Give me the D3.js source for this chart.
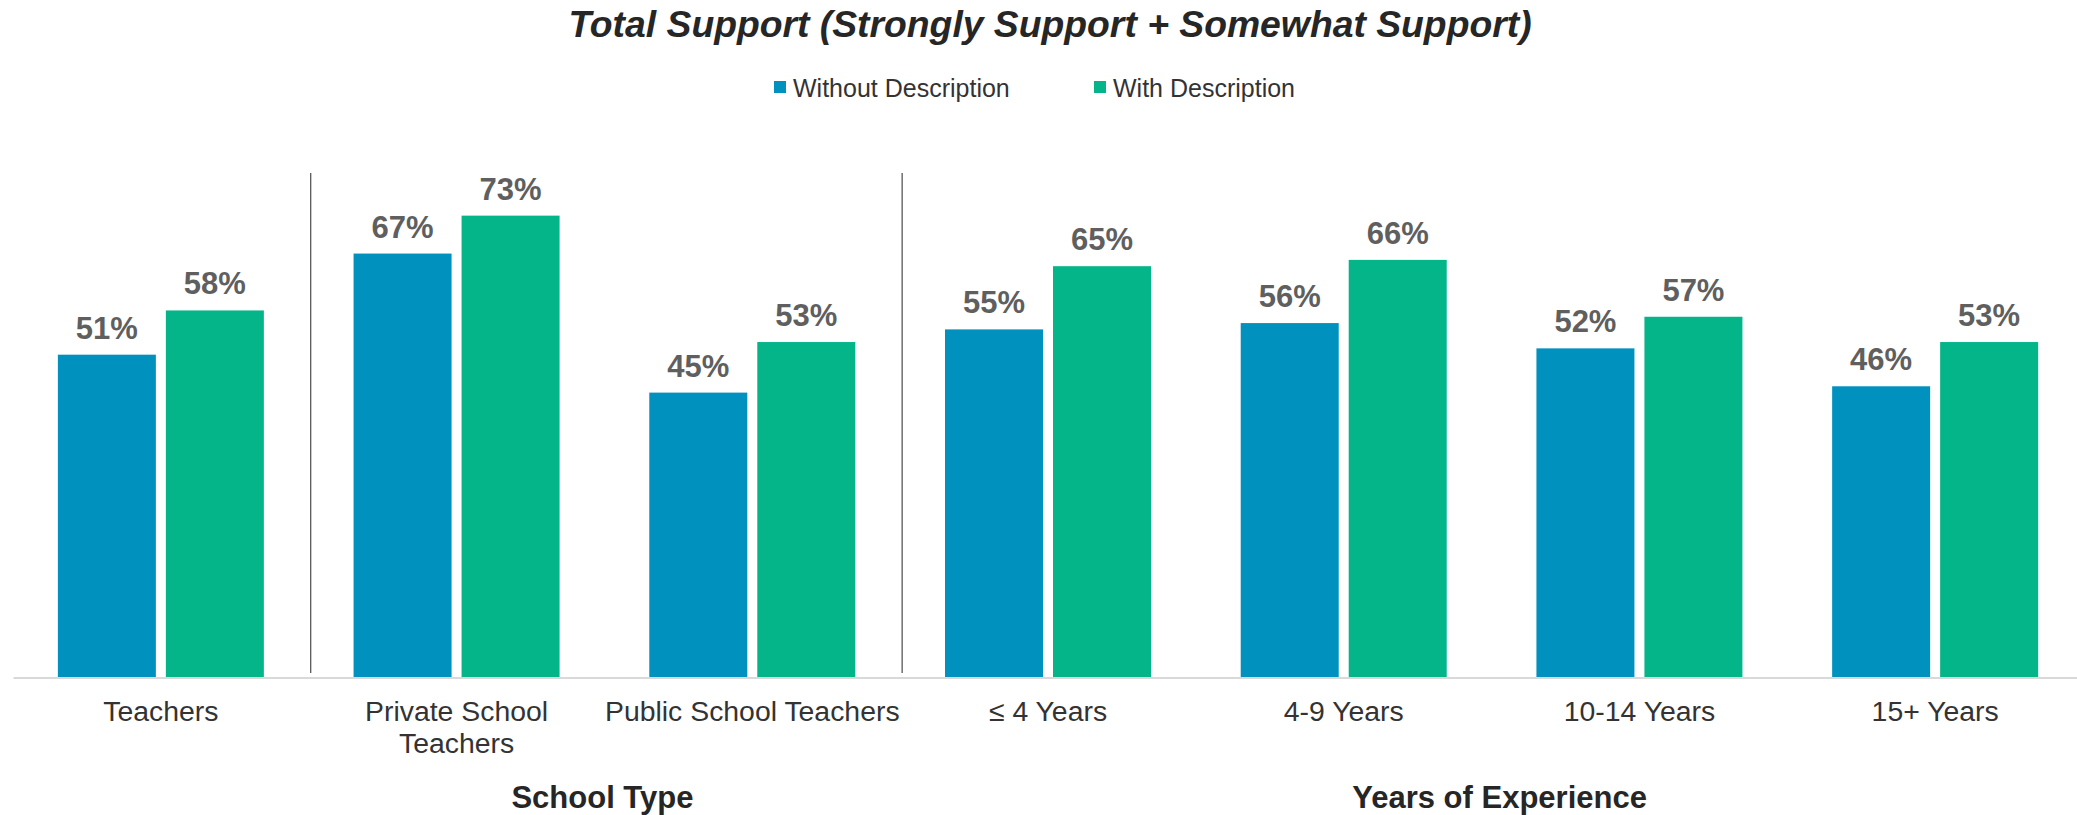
<!DOCTYPE html>
<html>
<head>
<meta charset="utf-8">
<script src="https://cdn.jsdelivr.net/npm/d3@7"></script>
<style>
  html, body { margin: 0; padding: 0; background: #ffffff; }
  svg { display: block; font-family: "Liberation Sans", Arial, sans-serif; }
</style>
</head>
<body>
<svg id="chart" width="2077" height="815"></svg>
<script>
// ---- data ----
const categories = ["Teachers", "Private School Teachers", "Public School Teachers", "≤ 4 Years", "4-9 Years", "10-14 Years", "15+ Years"];
const categoryLabels = ["Teachers", "Private School\nTeachers", "Public School Teachers", "≤ 4 Years", "4-9 Years", "10-14 Years", "15+ Years"];
const seriesNames = ["Without Description", "With Description"];
const withoutDescription = [51, 67, 45, 55, 56, 52, 46];
const withDescription = [58, 73, 53, 65, 66, 57, 53];
const seriesColors = ["#0091bf", "#03b588"];
const groupNames = ["School Type", "Years of Experience"];
const groupFirst = [1, 3];   // index of first category in each group
const groupLast = [2, 6];    // index of last category in each group
const titleText = "Total Support (Strongly Support + Somewhat Support)";

// ---- layout ----
const W = 2077, H = 815;
const baseY = 677;
const svg = d3.select("#chart");

const x = d3.scaleBand().domain(categories).range([13, 2083]).paddingInner(0).paddingOuter(0);
const pairWidth = 206;
const xs = d3.scaleBand().domain(seriesNames)
  .range([(x.bandwidth() - pairWidth) / 2, (x.bandwidth() + pairWidth) / 2])
  .paddingInner(0.0926).paddingOuter(0);
const y = d3.scaleLinear().domain([0, 100]).range([baseY, 45]);

const values = [withoutDescription, withDescription];
const rows = [];
categories.forEach((c, i) => {
  seriesNames.forEach((s, j) => rows.push({ cat: c, series: s, value: values[j][i], color: seriesColors[j] }));
});

// title
svg.append("text")
  .attr("x", 1050).attr("y", 37)
  .attr("text-anchor", "middle")
  .attr("font-size", 37.3).attr("font-weight", "bold").attr("font-style", "italic")
  .attr("fill", "#262626")
  .text(titleText);

// legend
const legendX = [774, 1094];
const legend = svg.append("g");
seriesNames.forEach((s, j) => {
  const g = legend.append("g").attr("transform", `translate(${legendX[j]},0)`);
  g.append("rect").attr("x", 0).attr("y", 81).attr("width", 12).attr("height", 12).attr("fill", seriesColors[j]);
  g.append("text").attr("x", 19).attr("y", 97).attr("font-size", 25).attr("fill", "#333333").text(s);
});

// bars
svg.append("g").selectAll("rect").data(rows).join("rect")
  .attr("x", d => x(d.cat) + xs(d.series))
  .attr("y", d => y(d.value))
  .attr("width", xs.bandwidth())
  .attr("height", d => baseY - y(d.value))
  .attr("fill", d => d.color);

// value labels
svg.append("g").selectAll("text").data(rows).join("text")
  .attr("x", d => x(d.cat) + xs(d.series) + xs.bandwidth() / 2)
  .attr("y", d => y(d.value) - 16)
  .attr("text-anchor", "middle")
  .attr("font-size", 31).attr("font-weight", "bold")
  .attr("fill", "#5f5f5f")
  .text(d => d.value + "%");

// axis
const axis = svg.append("g").attr("transform", `translate(0,${baseY + 0.5})`)
  .call(d3.axisBottom(x).tickSize(0).tickSizeOuter(0).tickFormat((d, i) => categoryLabels[i]));
axis.select(".domain").attr("stroke", "#d9d9d9").attr("stroke-width", 2);
axis.selectAll(".tick text").each(function(d, i) {
  const t = d3.select(this);
  const lines = categoryLabels[i].split("\n");
  t.text(null).attr("y", 0).attr("dy", null)
    .attr("font-size", 28.4).attr("fill", "#333333")
    .attr("font-family", "'Liberation Sans', Arial, sans-serif");
  lines.forEach((ln, k) => {
    t.append("tspan").attr("x", 0).attr("y", 43 + k * 32).text(ln);
  });
});

// separators
svg.append("g").selectAll("line").data(groupFirst).join("line")
  .attr("x1", d => x(categories[d]) + 2).attr("x2", d => x(categories[d]) + 2)
  .attr("y1", 173).attr("y2", 673)
  .attr("stroke", "#4a4a4a").attr("stroke-width", 1.2);

// group labels
const groupOffset = [-2, 8];
svg.append("g").selectAll("text").data(groupNames).join("text")
  .attr("x", (d, i) => (x(categories[groupFirst[i]]) + x(categories[groupLast[i]]) + x.bandwidth()) / 2 + groupOffset[i])
  .attr("y", 808)
  .attr("text-anchor", "middle")
  .attr("font-size", 31).attr("font-weight", "bold").attr("fill", "#262626")
  .text(d => d);
</script>
</body>
</html>
